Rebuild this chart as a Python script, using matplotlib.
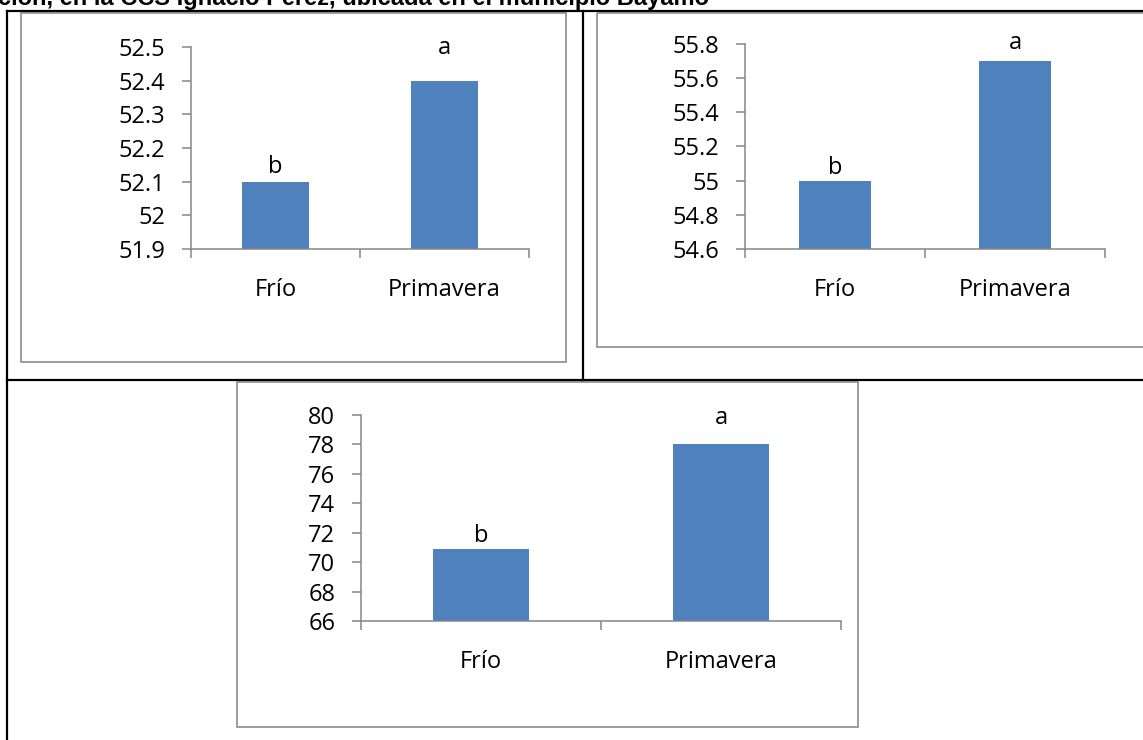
import matplotlib.pyplot as plt
from matplotlib.patches import Rectangle
import numpy as np

# datos de los tres graficos
estaciones = ["Frío", "Primavera"]
letras = ["b", "a"]

valores_1 = [52.1, 52.4]
valores_2 = [55.0, 55.7]
valores_3 = [70.9, 78.0]

ticks_1 = [51.9, 52.0, 52.1, 52.2, 52.3, 52.4, 52.5]
ticks_2 = [54.6, 54.8, 55.0, 55.2, 55.4, 55.6, 55.8]
ticks_3 = [66, 68, 70, 72, 74, 76, 78, 80]

titulo = "ción, en la CCS Ignacio Pérez, ubicada en el municipio Bayamo"

W, H = 1143, 740
DPI = 100
AZUL = "#4F81BD"
GRIS = "#868686"
FS = 17

plt.rcParams["font.family"] = ["Open Sans", "DejaVu Sans"]

fig = plt.figure(figsize=(W / DPI, H / DPI), dpi=DPI)


def px_rect(x0, y0, x1, y1):
    # pixeles (origen arriba-izquierda) -> fracciones de figura
    return [x0 / W, 1 - y1 / H, (x1 - x0) / W, (y1 - y0) / H]


# capa de fondo: lineas de la tabla y marcos de los graficos
fondo = fig.add_axes([0, 0, 1, 1])
fondo.set_xlim(0, W)
fondo.set_ylim(H, 0)
fondo.axis('off')

for (x0, y0, x1, y1) in [(7, 11, 1150, 11), (7, 11, 7, 745), (583, 11, 583, 380), (7, 380, 1150, 380)]:
    fondo.plot([x0, x1], [y0, y1], color='black', lw=1.6, solid_capstyle='projecting')

for (x0, y0, x1, y1) in [(21, 13, 566, 362), (597, 13, 1150, 347), (237, 382, 858, 727)]:
    fondo.add_patch(Rectangle((x0, y0), x1 - x0, y1 - y0, fill=False, edgecolor='#8C8C8C', lw=1.2))

fig.text(-2 / W, 1 - 5.5 / H, titulo, fontsize=17, fontweight='bold',
         family='Liberation Sans', va='baseline', ha='left')


def grafico(rect, valores, ticks, desplaz):
    ax = fig.add_axes(px_rect(*rect))
    ax.patch.set_visible(False)
    x = np.arange(len(estaciones))
    base = ticks[0]
    ax.bar(x, [v - base for v in valores], bottom=base, width=0.4, color=AZUL, zorder=2)

    ax.set_xlim(-0.5, len(estaciones) - 0.5)
    ax.set_ylim(ticks[0], ticks[-1])

    ax.set_yticks(ticks)
    ax.set_yticklabels(["{:g}".format(t) for t in ticks])
    ax.set_xticks(x)
    ax.set_xticklabels(estaciones)
    ax.set_xticks(np.arange(-0.5, len(estaciones), 1), minor=True)

    ax.tick_params(axis='y', length=6.5, width=1.1, color=GRIS, pad=12, labelsize=FS)
    ax.tick_params(axis='x', which='major', length=0, pad=21, labelsize=FS)
    ax.tick_params(axis='x', which='minor', length=6.5, width=1.1, color=GRIS)

    for lado in ['top', 'right']:
        ax.spines[lado].set_visible(False)
    for lado in ['left', 'bottom']:
        ax.spines[lado].set_color(GRIS)
        ax.spines[lado].set_linewidth(1.1)

    # letras de significacion sobre las barras
    for xi, v, letra, d in zip(x, valores, letras, desplaz):
        ax.annotate(letra, (xi, v), xytext=(0, d), textcoords='offset points',
                    ha='center', va='baseline', fontsize=FS)
    return ax


grafico((191, 47, 529, 249), valores_1, ticks_1, (6.5, 19))
grafico((745, 44, 1105, 249), valores_2, ticks_2, (4.5, 8.5))
grafico((361, 415, 841, 621), valores_3, ticks_3, (5, 15))

fig.savefig('out.png', dpi=DPI)
